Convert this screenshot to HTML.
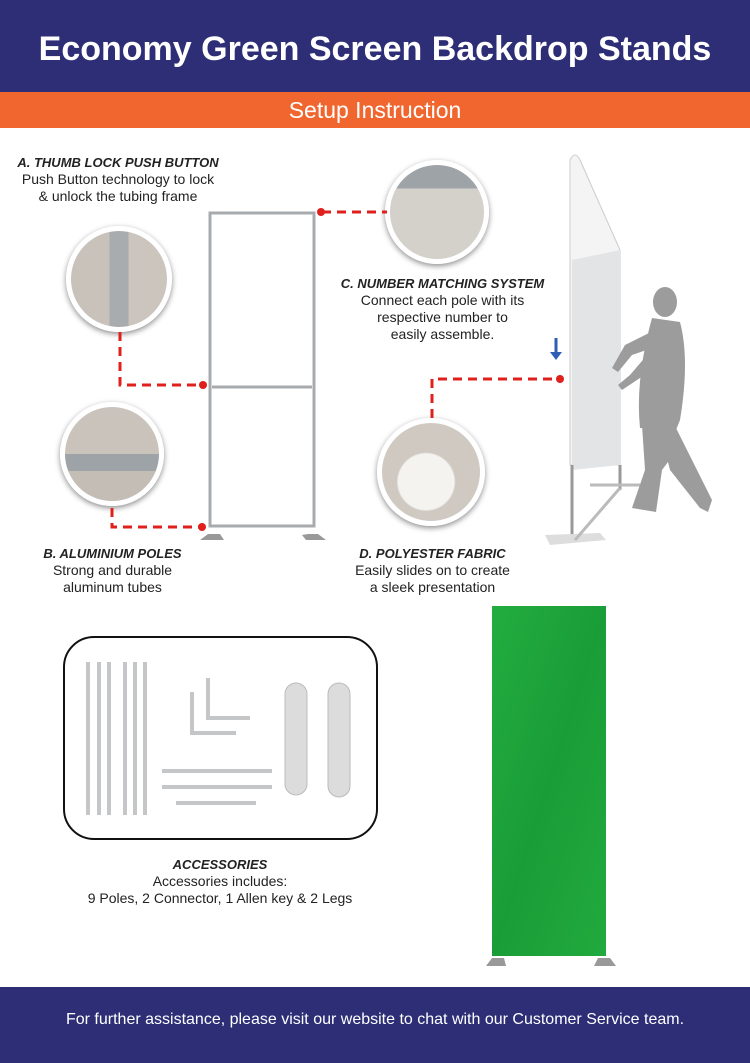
<!DOCTYPE html>
<html><head><meta charset="utf-8"><style>
*{margin:0;padding:0;box-sizing:border-box}
body{width:750px;height:1063px;background:#fff;position:relative;overflow:hidden;font-family:"Liberation Sans",sans-serif}
.hdr{position:absolute;left:0;top:0;width:750px;height:92px;background:#2d2e76;color:#fff;font-size:34px;font-weight:bold;text-align:center;line-height:98px}
.sub{position:absolute;left:0;top:92px;width:750px;height:36px;background:#f1662f;color:#fff;font-size:23px;text-align:center;line-height:36px}
.ftr{position:absolute;left:0;top:987px;width:750px;height:76px;background:#2d2e76;color:#fff;font-size:16px;text-align:center;line-height:66px}
.t{position:absolute;text-align:center;font-size:14px;line-height:17px;color:#222}
.t b{font-style:italic;font-size:13px}
.c{position:absolute;border-radius:50%;border:5px solid #fff;box-shadow:0 2px 6px rgba(0,0,0,.45);overflow:hidden;background:#c9c3bc}
</style></head><body>
<div class="hdr">Economy Green Screen Backdrop Stands</div>
<div class="sub">Setup Instruction</div>

<div class="t" style="left:0;top:154px;width:236px"><b>A. THUMB LOCK PUSH BUTTON</b><br>Push Button technology to lock<br>&amp; unlock the tubing frame</div>
<div class="t" style="left:10px;top:545px;width:205px"><b>B. ALUMINIUM POLES</b><br>Strong and durable<br>aluminum tubes</div>
<div class="t" style="left:330px;top:275px;width:225px"><b>C. NUMBER MATCHING SYSTEM</b><br>Connect each pole with its<br>respective number to<br>easily assemble.</div>
<div class="t" style="left:330px;top:545px;width:205px"><b>D. POLYESTER FABRIC</b><br>Easily slides on to create<br>a sleek presentation</div>
<div class="t" style="left:50px;top:856px;width:340px"><b>ACCESSORIES</b><br>Accessories includes:<br>9 Poles, 2 Connector, 1 Allen key &amp; 2 Legs</div>

<div class="c" style="left:66px;top:226px;width:106px;height:106px;background:linear-gradient(90deg,#c8c2bb 40%,#a9acaf 40%,#a9acaf 60%,#cbc5be 60%)"></div>
<div class="c" style="left:60px;top:402px;width:104px;height:104px;background:linear-gradient(180deg,#c9c3bc 50%,#9ea3a8 50%,#9ea3a8 68%,#c3bdb6 68%)"></div>
<div class="c" style="left:385px;top:160px;width:104px;height:104px;background:linear-gradient(180deg,#9ea3a8 25%,#d4d0ca 25%)"></div>
<div class="c" style="left:377px;top:418px;width:108px;height:108px;background:radial-gradient(circle at 45% 60%,#f4f3f0 35%,#cfc9c2 37%)"></div>

<svg width="750" height="1063" style="position:absolute;left:0;top:0">
<defs><linearGradient id="g" x1="0" y1="0" x2="1" y2="1"><stop offset="0" stop-color="#22ad40"/><stop offset=".5" stop-color="#1a9d37"/><stop offset="1" stop-color="#21aa3e"/></linearGradient></defs>
<g fill="none" stroke="#e0201c" stroke-width="3" stroke-dasharray="9,6">
<path d="M120 332V385H203"/><path d="M112 508V527H202"/><path d="M322 212H387"/><path d="M432 418V379H560"/>
</g>
<g fill="#e0201c"><circle cx="203" cy="385" r="4"/><circle cx="202" cy="527" r="4"/><circle cx="321" cy="212" r="4"/><circle cx="560" cy="379" r="4"/></g>
<g fill="none" stroke="#a8abae" stroke-width="3"><rect x="210" y="213" width="104" height="313"/><path d="M212 387H312"/></g>
<path d="M200 540l8-6h12l4 6zM302 535l6-1h10l8 6h-20z" fill="#999"/>
<path d="M570 160Q575 150 580 160L620 250V465H570Z" fill="#f4f4f4" stroke="#ccc"/>
<path d="M572 260L620 250V465L572 470Z" fill="#e2e4e6"/>
<path d="M572 465V540M620 465V490" stroke="#999" stroke-width="3"/>
<path d="M545 535L600 533 606 540 550 545Z" fill="#ddd"/>
<path d="M590 485H640M575 540L620 488" stroke="#bbb" stroke-width="3"/>
<path d="M556 338v16" stroke="#2d5fb3" stroke-width="3"/><path d="M550 352h12l-6 8z" fill="#2d5fb3"/>
<g fill="#9c9c9c">
<ellipse cx="665" cy="302" rx="12" ry="15"/>
<path d="M652 318 L680 322 Q690 360 680 420 L676 430 640 428 Q635 380 652 318Z"/>
<path d="M655 330 L625 345 612 368 618 372 632 355 652 348Z"/>
<path d="M660 340 L630 375 618 385 622 390 640 378 664 356Z"/>
<path d="M642 425 L676 428 L712 500 L708 512 L700 508 L670 470 L668 462 L662 470 L656 512 L632 508 L645 470Z"/>
</g>
<rect x="64" y="637" width="313" height="202" rx="30" fill="#fff" stroke="#111" stroke-width="2"/>
<g stroke="#c4c6c8" stroke-width="4" fill="none">
<path d="M88 662V815M99 662V815M109 662V815M125 662V815M135 662V815M145 662V815"/>
<path d="M208 678V718H250M192 692V733H236"/>
<path d="M162 771H272M162 787H272M176 803H256"/>
</g>
<rect x="285" y="683" width="22" height="112" rx="11" fill="#dcdcdc" stroke="#bbb"/>
<rect x="328" y="683" width="22" height="114" rx="11" fill="#dcdcdc" stroke="#bbb"/>
<rect x="492" y="606" width="114" height="350" fill="url(#g)"/>
<path d="M486 966l6-8h12l2 8zM594 966l4-8h12l6 8z" fill="#999"/>
</svg>
<div class="ftr">For further assistance, please visit our website to chat with our Customer Service team.</div>
</body></html>
